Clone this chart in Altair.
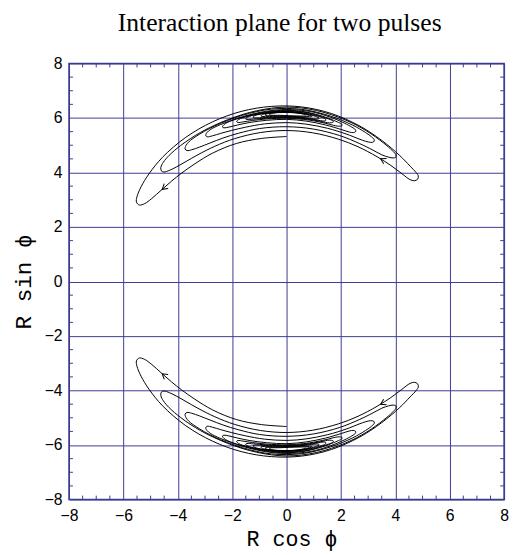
import altair as alt
import numpy as np
import pandas as pd

chart_title = "Interaction plane for two pulses"
x_title = "R cos \u03d5"
y_title = "R sin \u03d5"
major_ticks = [-8, -6, -4, -2, 0, 2, 4, 6, 8]
minor_ticks = [-7.5, -7, -6.5, -5.5, -5, -4.5, -3.5, -3, -2.5, -1.5, -1, -0.5,
               0.5, 1, 1.5, 2.5, 3, 3.5, 4.5, 5, 5.5, 6.5, 7, 7.5]

# trajectory in the upper half plane, read as (phi in degrees, R)
phi_deg = [
    # start: inner edge to the first left tip
    90, 100, 110, 120, 128, 134, 139, 144, 148.5, 151.3, 152.6, 152.2, 150.5,
    # lap 1 outer edge
    147, 142, 135, 125, 115, 105, 95, 85, 75, 65, 56, 48, 43, 40, 38.6, 37.9, 38.2, 39.5,
    # inner edge 1 -> 2
    43, 48, 54, 62, 70, 80, 90, 100, 110, 118, 125, 130, 134, 136.5, 138.3, 138.6, 137.8, 136,
    # lap 2 outer
    133, 128, 120, 110, 100, 90, 80, 70, 62, 55, 51, 49.2, 48.6, 49.2, 50.5,
    # inner 2 -> 3
    53, 57, 62, 70, 80, 90, 100, 108, 114, 119, 123, 125.8, 127.3, 127.5, 126.6, 125,
    # lap 3 outer
    122, 115, 105, 95, 85, 75, 67, 62, 59.5, 58.2, 58.0, 58.8, 60.5,
    # inner 3 -> 4
    63, 68, 75, 83, 90, 98, 105, 110, 114, 117, 118.8, 119.0, 118.2, 116.5,
    # lap 4 outer
    113, 105, 97, 90, 82, 75, 70, 67, 65.6, 65.2, 65.8, 67.2,
    # inner 4 -> 5
    70, 76, 83, 90, 97, 103, 107.5, 110.5, 112.2, 112.6, 111.8, 110.3,
    # lap 5 outer
    106, 99, 92, 85, 79, 74.5, 71.8, 70.6, 70.4, 71.2, 72.6,
    # inner 5 -> 6
    76, 82, 90, 97, 102, 105.3, 107, 107.4, 106.5, 105,
    # lap 6 outer
    101, 95, 89, 83, 78.5, 75.5, 74, 73.6, 74.3, 75.5,
    # inner 6 -> 7
    79, 85, 91, 97, 101.5, 103.8, 104.2, 103.3, 102,
    # lap 7 outer
    98, 92, 86, 81, 78, 76.5, 76.3, 77.2,
    # inner 7 -> 8
    81, 88, 95, 99.5, 101.5, 101.3, 100,
    # lap 8 outer
    95, 88, 83, 80, 78.7, 79.3,
    # inner 8 -> 9
    84, 91, 96, 98.8, 98.5, 97,
    # lap 9 outer
    92, 86, 82.5, 81.2,
    # inner 9 -> 10
    85, 91, 95.5, 97.3, 97.0, 95.8,
    # lap 10 outer
    90, 85, 82.5, 82.2,
    # inner 10 -> 11
    86, 92, 95.8, 95.5,
    # lap 11 outer
    90, 85.5, 83.5,
]
radius = [
    5.32, 5.33, 5.39, 5.44, 5.48, 5.54, 5.61, 5.70, 5.82, 5.95, 6.10, 6.24, 6.32,
    6.38, 6.42, 6.45, 6.46, 6.46, 6.46, 6.45, 6.43, 6.38, 6.31, 6.25, 6.22, 6.21, 6.22, 6.20, 6.10, 5.98, 5.88,
    5.80, 5.73, 5.66, 5.60, 5.56, 5.54, 5.54, 5.55, 5.58, 5.62, 5.68, 5.75, 5.84, 5.93, 6.04, 6.14, 6.24, 6.30,
    6.33, 6.33, 6.32, 6.32, 6.36, 6.40, 6.37, 6.31, 6.26, 6.21, 6.18, 6.15, 6.08, 5.99, 5.91,
    5.82, 5.77, 5.73, 5.70, 5.68, 5.68, 5.70, 5.72, 5.76, 5.81, 5.88, 5.96, 6.04, 6.13, 6.21, 6.26,
    6.28, 6.29, 6.31, 6.35, 6.34, 6.28, 6.23, 6.19, 6.16, 6.12, 6.04, 5.97, 5.91,
    5.87, 5.84, 5.82, 5.82, 5.83, 5.84, 5.86, 5.90, 5.95, 6.00, 6.06, 6.13, 6.20, 6.24,
    6.25, 6.26, 6.29, 6.31, 6.30, 6.24, 6.19, 6.15, 6.12, 6.06, 5.99, 5.95,
    5.93, 5.92, 5.93, 5.95, 5.96, 5.99, 6.02, 6.05, 6.09, 6.14, 6.20, 6.23,
    6.24, 6.26, 6.28, 6.27, 6.22, 6.17, 6.14, 6.12, 6.07, 6.02, 5.99,
    5.98, 5.98, 5.99, 6.01, 6.04, 6.07, 6.10, 6.15, 6.20, 6.22,
    6.23, 6.25, 6.26, 6.24, 6.19, 6.16, 6.14, 6.10, 6.05, 6.02,
    6.01, 6.01, 6.02, 6.04, 6.08, 6.12, 6.16, 6.20, 6.22,
    6.23, 6.24, 6.23, 6.19, 6.16, 6.13, 6.08, 6.04,
    6.03, 6.03, 6.05, 6.09, 6.14, 6.18, 6.21,
    6.22, 6.22, 6.19, 6.15, 6.11, 6.07,
    6.05, 6.06, 6.09, 6.14, 6.18, 6.20,
    6.21, 6.20, 6.17, 6.13,
    6.07, 6.08, 6.11, 6.15, 6.19, 6.21,
    6.21, 6.20, 6.17, 6.14,
    6.09, 6.10, 6.15, 6.19,
    6.20, 6.19, 6.15,
]

# direction arrows on the upper trajectory (position and heading in degrees)
arrow_phi = [143.5, 52.5]
arrow_r = [5.69, 5.68]
arrow_heading = [219, 152]

NAVY = "#3b3b94"
W, H = 442, 443

phi = np.radians(np.array(phi_deg, dtype=float))
r = np.array(radius, dtype=float)
xs = r * np.cos(phi)
ys = r * np.sin(phi)
n = len(xs)
traj = pd.DataFrame({
    "x": np.concatenate([xs, xs]),
    "y": np.concatenate([ys, -ys]),
    "i": list(range(n)) * 2,
    "half": ["upper"] * n + ["lower"] * n,
})

ap = np.radians(np.array(arrow_phi, dtype=float))
ar = np.array(arrow_r, dtype=float)
axp = ar * np.cos(ap)
ayp = ar * np.sin(ap)
hd = np.array(arrow_heading, dtype=float)
arrows = pd.DataFrame({
    "x": np.concatenate([axp, axp]),
    "y": np.concatenate([ayp, -ayp]),
    "rot": np.concatenate([(360 - hd) % 360, hd % 360]),
})

mt = pd.DataFrame({"x": minor_ticks, "y": minor_ticks})

xscale = alt.Scale(domain=[-8, 8], nice=False, zero=False)
yscale = alt.Scale(domain=[-8, 8], nice=False, zero=False)

x_axis = alt.Axis(values=major_ticks, grid=True, gridColor=NAVY, gridWidth=1, gridOpacity=1,
                  ticks=False, tickSize=0, domain=False,
                  labelFont="Liberation Sans", labelFontSize=16, labelColor="black",
                  labelPadding=8, labelFlush=False, labelOverlap=False,
                  title=x_title, titleFont="Liberation Mono", titleFontSize=22,
                  titleFontWeight="normal", titleColor="black",
                  titleX=226, titleY=47, titleAlign="center", titleBaseline="alphabetic")
y_axis = alt.Axis(values=major_ticks, grid=True, gridColor=NAVY, gridWidth=1, gridOpacity=1,
                  ticks=False, tickSize=0, domain=False,
                  labelFont="Liberation Sans", labelFontSize=16, labelColor="black",
                  labelPadding=7, labelFlush=False, labelOverlap=False,
                  title=y_title, titleFont="Liberation Mono", titleFontSize=23,
                  titleFontWeight="normal", titleColor="black",
                  titleX=-46, titleY=221.5, titleAngle=270,
                  titleAlign="center", titleBaseline="middle")

lines = alt.Chart(traj).mark_line(interpolate="catmull-rom", color="black", strokeWidth=1).encode(
    x=alt.X("x:Q", scale=xscale, axis=x_axis),
    y=alt.Y("y:Q", scale=yscale, axis=y_axis),
    detail="half:N",
    order=alt.Order("i:Q"),
)

top_ticks = alt.Chart(mt).mark_rule(color=NAVY, strokeWidth=1).encode(
    x=alt.X("x:Q", scale=xscale), y=alt.value(0), y2=alt.value(4))
bottom_ticks = alt.Chart(mt).mark_rule(color=NAVY, strokeWidth=1).encode(
    x=alt.X("x:Q", scale=xscale), y=alt.value(H), y2=alt.value(H - 4))
left_ticks = alt.Chart(mt).mark_rule(color=NAVY, strokeWidth=1).encode(
    y=alt.Y("y:Q", scale=yscale), x=alt.value(0), x2=alt.value(4))
right_ticks = alt.Chart(mt).mark_rule(color=NAVY, strokeWidth=1).encode(
    y=alt.Y("y:Q", scale=yscale), x=alt.value(W), x2=alt.value(W - 4))

arrow_marks = alt.Chart(arrows).mark_point(
    shape="M-1,-0.6L0,0L-1,0.6", filled=False, color="black", strokeWidth=1, size=110, opacity=1
).encode(
    x=alt.X("x:Q", scale=xscale),
    y=alt.Y("y:Q", scale=yscale),
    angle=alt.Angle("rot:Q", scale=None),
)

title_mark = alt.Chart(pd.DataFrame({"t": [chart_title]})).mark_text(
    font="Liberation Serif", fontSize=26, color="black", align="center", baseline="alphabetic"
).encode(text="t:N", x=alt.value(214), y=alt.value(-33))

chart = alt.layer(lines, top_ticks, bottom_ticks, left_ticks, right_ticks, arrow_marks, title_mark).properties(
    width=W, height=H,
    autosize=alt.AutoSizeParams(type="none"),
    padding={"left": 62, "top": 52, "right": 7, "bottom": 54},
).configure_view(stroke=NAVY, strokeWidth=1.6)

chart.save("out.html", embed_options={"renderer": "svg", "actions": False})
